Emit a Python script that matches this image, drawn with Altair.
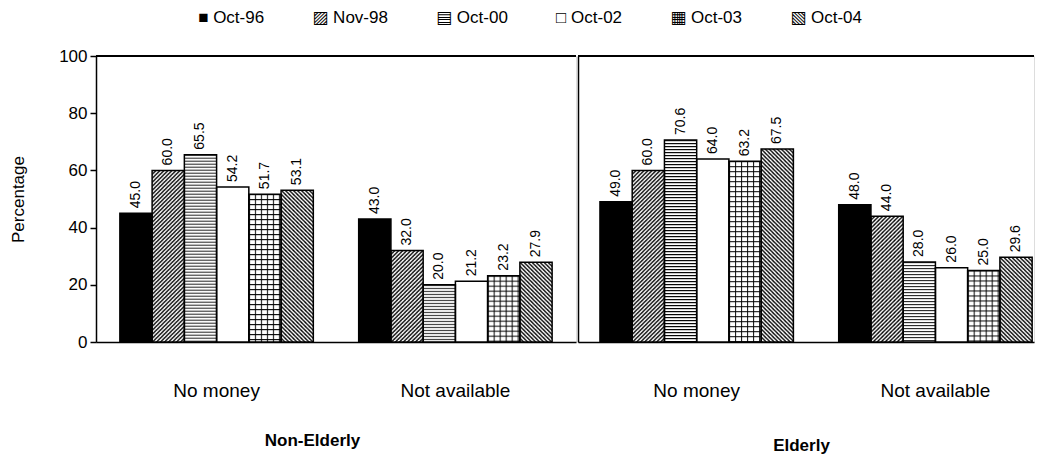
import altair as alt
import pandas as pd
from urllib.parse import quote

# ---------------- data ----------------
groups = ["Non-Elderly", "Elderly"]
categories = ["No money", "Not available"]
series = ["Oct-96", "Nov-98", "Oct-00", "Oct-02", "Oct-03", "Oct-04"]
non_elderly_no_money = [45.0, 60.0, 65.5, 54.2, 51.7, 53.1]
non_elderly_not_available = [43.0, 32.0, 20.0, 21.2, 23.2, 27.9]
elderly_no_money = [49.0, 60.0, 70.6, 64.0, 63.2, 67.5]
elderly_not_available = [48.0, 44.0, 28.0, 26.0, 25.0, 29.6]
y_ticks = [0, 20, 40, 60, 80, 100]

# ---------------- styles ----------------
FONT = "Liberation Sans, Arial, DejaVu Sans"


def svg_uri(inner, w, h):
    svg = ("<svg xmlns='http://www.w3.org/2000/svg' width='100%' height='100%'>"
           f"<defs><pattern id='p' patternUnits='userSpaceOnUse' width='{w}' height='{h}'>{inner}</pattern></defs>"
           "<rect width='100%' height='100%' fill='white'/>"
           "<rect width='100%' height='100%' fill='url(#p)'/></svg>")
    return "data:image/svg+xml;charset=utf-8," + quote(svg)


patterns = {
    "Oct-96": "",
    "Nov-98": svg_uri("<path d='M-1,1 L1,-1 M0,4 L4,0 M3,5 L5,3' stroke='black' stroke-width='1.3'/>", 4, 4),
    "Oct-00": svg_uri("<rect x='0' y='0' width='4' height='1' fill='black'/>", 4, 3),
    "Oct-02": "",
    "Oct-03": svg_uri("<rect x='0' y='0' width='6' height='1' fill='black'/>"
                      "<rect x='0' y='0' width='1' height='5' fill='black'/>", 6, 5),
    "Oct-04": svg_uri("<path d='M-1,3 L1,5 M0,0 L4,4 M3,-1 L5,1' stroke='black' stroke-width='1.3'/>", 4, 4),
}
base_fill = ["black", "white", "white", "white", "white", "white"]
glyphs = {"Oct-96": "\u25A0", "Nov-98": "\u25A8", "Oct-00": "\u25A4",
          "Oct-02": "\u25A1", "Oct-03": "\u25A6", "Oct-04": "\u25A7"}
GAP = "\u2003\u2003\u00a0\u00a0\u00a0"
legend_text = GAP.join(glyphs[s] + "\u00a0" + s for s in series)

values = {
    ("Non-Elderly", "No money"): non_elderly_no_money,
    ("Non-Elderly", "Not available"): non_elderly_not_available,
    ("Elderly", "No money"): elderly_no_money,
    ("Elderly", "Not available"): elderly_not_available,
}
rows = []
for (g, c), vals in values.items():
    for s, v in zip(series, vals):
        rows.append({"group": g, "category": c, "series": s, "value": v,
                     "pattern": patterns[s]})
df = pd.DataFrame(rows)


def panel(group, width, x_scale, title_pad, title_x, left):
    d = df[df.group == group]
    base = alt.Chart(d)
    x = alt.X("category:N", sort=categories, scale=x_scale,
              axis=alt.Axis(title=group, labelAngle=0, ticks=False, domain=True,
                            domainColor="black", domainWidth=1.5,
                            labelPadding=39, labelFontSize=19, labelFont=FONT,
                            labelColor="black", titleFont=FONT, titleFontSize=17,
                            titleFontWeight="bold", titlePadding=title_pad,
                            titleX=title_x, titleColor="black"))
    xo = alt.XOffset("series:N", sort=series,
                     scale=alt.Scale(domain=series, paddingInner=0, paddingOuter=0))
    if left:
        yaxis = alt.Axis(values=y_ticks, title="Percentage", grid=False, tickSize=6,
                         tickColor="black", tickWidth=1.5, domainColor="black",
                         domainWidth=1.5, labelFontSize=17, labelFont=FONT,
                         labelColor="black", labelPadding=3, titleFont=FONT,
                         titleFontSize=17, titleFontWeight="normal", titleColor="black",
                         titlePadding=31)
    else:
        yaxis = alt.Axis(labels=False, ticks=False, title="", grid=False,
                         domainColor="black", domainWidth=1.5)
    y = alt.Y("value:Q", scale=alt.Scale(domain=[0, 100]), axis=yaxis)

    fills = base.mark_bar().encode(
        x=x, xOffset=xo, y=y,
        color=alt.Color("series:N", scale=alt.Scale(domain=series, range=base_fill),
                        legend=None))
    hatch = base.transform_filter("datum.pattern != ''").mark_image(aspect=False).encode(
        x=x, xOffset=xo, y=y, y2=alt.datum(0), url="pattern:N")
    outline = base.mark_bar(fillOpacity=0, stroke="black", strokeWidth=1.5).encode(
        x=x, xOffset=xo, y=y)
    labels = base.mark_text(angle=270, align="left", baseline="middle", dx=5,
                            fontSize=14, font=FONT, color="black").encode(
        x=x, xOffset=xo, y=y, text=alt.Text("value:Q", format=".1f"))
    top = base.mark_rule(color="black", strokeWidth=1).encode(y=alt.datum(100))
    return alt.layer(fills, hatch, outline, labels, top).properties(width=width, height=286)


left = panel("Non-Elderly", 480,
             alt.Scale(domain=categories, paddingInner=0.19, paddingOuter=0.1), 32, 216, True)
right = panel("Elderly", 456,
              alt.Scale(domain=categories, paddingInner=0.19, paddingOuter=0.05, align=0.92),
              37, 223, False)

chart = alt.hconcat(left, right, spacing=0).properties(
    title=alt.TitleParams(legend_text, font=FONT, fontSize=17, fontWeight="normal",
                          color="black", anchor="middle", offset=20, dx=8),
    padding={"left": 1, "top": 0, "right": 0, "bottom": 0},
).configure_view(stroke="transparent").configure(background="white")

chart.save("out.html", embed_options={"renderer": "svg", "actions": False})
